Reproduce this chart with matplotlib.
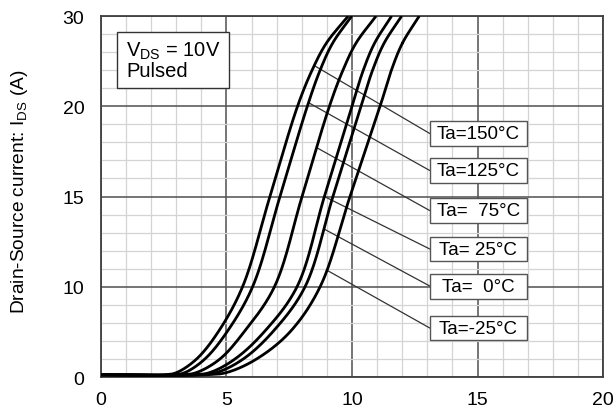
"""Transfer characteristics (IDS vs VGS) at several ambient temperatures."""

import numpy as np
import matplotlib
matplotlib.use("Agg")
import matplotlib.pyplot as plt
from matplotlib.patches import Rectangle
from matplotlib.ticker import FixedLocator, MultipleLocator

plt.rcParams["font.family"] = ["Liberation Sans", "DejaVu Sans"]
plt.rcParams["mathtext.fontset"] = "custom"
plt.rcParams["mathtext.rm"] = "Liberation Sans"
plt.rcParams["mathtext.it"] = "Liberation Sans:italic"
plt.rcParams["mathtext.bf"] = "Liberation Sans:bold"

# y axis labels as printed (evenly spaced on the sheet)
y_ticks = [0, 10, 15, 20, 30]
x_ticks = [0, 5, 10, 15, 20]

# drain current (A) levels shared by all curves
ids_levels = [0.25, 0.25, 0.5, 2.0, 5.0, 10.0, 15.0, 20.0, 24.0, 27.0, 30.0]
# gate voltage (V) at which each curve reaches those levels
vgs_150 = [0, 2.55, 3.02, 3.81, 4.67, 5.64, 6.73, 7.83, 8.41, 8.98, 9.85]
vgs_125 = [0, 2.87, 3.35, 4.14, 5.02, 6.04, 7.13, 8.22, 8.73, 9.23, 9.99]
vgs_75 = [0, 3.23, 3.81, 4.74, 5.70, 6.91, 8.01, 9.10, 9.64, 10.16, 10.96]
vgs_25 = [0, 3.67, 4.34, 5.34, 6.50, 7.81, 8.90, 10.00, 10.45, 10.90, 11.58]
vgs_0 = [0, 3.86, 4.61, 5.67, 6.84, 8.13, 9.24, 10.36, 10.82, 11.28, 11.98]
vgs_m25 = [0, 4.18, 5.01, 6.20, 7.53, 8.73, 9.92, 11.12, 11.57, 12.01, 12.68]

curves = [vgs_150, vgs_125, vgs_75, vgs_25, vgs_0, vgs_m25]
labels = ["Ta=150°C", "Ta=125°C", "Ta=  75°C", "Ta= 25°C", "Ta=  0°C", "Ta=-25°C"]
# current where each callout line touches its curve
callout_ids = [24.5, 20.4, 17.7, 15.0, 13.2, 10.9]


def fwd(v):
    return np.interp(v, y_ticks, np.arange(len(y_ticks)))


def inv(u):
    return np.interp(u, np.arange(len(y_ticks)), y_ticks)


def smooth(px, py, n=60):
    # centripetal Catmull-Rom through the points (in screen-like units)
    P = np.column_stack([px, py])
    P = np.vstack([2 * P[0] - P[1], P, 2 * P[-1] - P[-2]])
    out = []
    for i in range(1, len(P) - 2):
        p0, p1, p2, p3 = P[i - 1], P[i], P[i + 1], P[i + 2]
        t0 = 0.0
        t1 = t0 + np.linalg.norm(p1 - p0) ** 0.5
        t2 = t1 + np.linalg.norm(p2 - p1) ** 0.5
        t3 = t2 + np.linalg.norm(p3 - p2) ** 0.5
        t = np.linspace(t1, t2, n)[:, None]
        a1 = (t1 - t) / (t1 - t0) * p0 + (t - t0) / (t1 - t0) * p1
        a2 = (t2 - t) / (t2 - t1) * p1 + (t - t1) / (t2 - t1) * p2
        a3 = (t3 - t) / (t3 - t2) * p2 + (t - t2) / (t3 - t2) * p3
        b1 = (t2 - t) / (t2 - t0) * a1 + (t - t0) / (t2 - t0) * a2
        b2 = (t3 - t) / (t3 - t1) * a2 + (t - t1) / (t3 - t1) * a3
        out.append((t2 - t) / (t2 - t1) * b1 + (t - t1) / (t2 - t1) * b2)
    c = np.vstack(out)
    return c[:, 0], c[:, 1]


fig = plt.figure(figsize=(6.15, 4.10), dpi=100)
ax = fig.add_axes([0.1642, 0.078, 0.8163, 0.8805])
ax.set_yscale("function", functions=(fwd, inv))
ax.set_xlim(0, 20)
ax.set_ylim(0, 30)

ax.set_xticks(x_ticks)
ax.xaxis.set_minor_locator(MultipleLocator(1))
ax.set_yticks(y_ticks)
ax.yaxis.set_minor_locator(FixedLocator(inv(np.arange(0, 4.01, 0.2))))
ax.set_yticklabels([str(v) for v in y_ticks])
ax.tick_params(which="both", length=0, labelsize=14)
ax.tick_params(axis="x", pad=10)
ax.tick_params(axis="y", pad=12)
ax.grid(which="minor", color="#d4d4d4", lw=0.9)
ax.grid(which="major", color="#505050", lw=1.1)
ax.set_axisbelow(True)
for sp in ax.spines.values():
    sp.set_color("#404040")
    sp.set_linewidth(1.3)

ax.set_ylabel(r"Drain-Source current: I$_{\mathrm{DS}}$ (A)", fontsize=13.8)
ax.yaxis.set_label_coords(-0.141, 0.515)

# screen scale: 20 V over 502 px, 4 label steps over 361 px
sx, su = 25.1, 90.25
dense = []
for vgs in curves:
    cx, cu = smooth(np.array(vgs) * sx, fwd(np.array(ids_levels)) * su)
    xs, ys = cx / sx, inv(np.clip(cu / su, 0, 4))
    dense.append((xs, ys))
    ax.plot(xs, ys, color="black", lw=2.0, zorder=3, solid_capstyle="butt")

ax.add_patch(Rectangle((0.032, 0.8006), 0.223, 0.155, transform=ax.transAxes,
                       fc="white", ec="#333333", lw=1.0, zorder=5))
ax.text(0.05, 0.935, "V$_{\\mathrm{DS}}$ = 10V\nPulsed", transform=ax.transAxes,
        fontsize=14.5, va="top", ha="left", linespacing=1.0, zorder=6)

box_left, box_w, box_h = 0.655, 0.193, 0.069
box_centers = [0.6745, 0.572, 0.461, 0.3546, 0.252, 0.1357]
for (xs, ys), lab, cur, yc in zip(dense, labels, callout_ids, box_centers):
    k = np.argmax(ys >= cur)
    x0 = xs[k]
    ax.annotate("", xy=(x0, cur), xycoords="data", xytext=(box_left, yc),
                textcoords="axes fraction",
                arrowprops=dict(arrowstyle="-", color="#333333", lw=0.9,
                                shrinkA=0, shrinkB=0), zorder=2.5)
    ax.add_patch(Rectangle((box_left, yc - box_h / 2), box_w, box_h,
                           transform=ax.transAxes, fc="white", ec="#555555",
                           lw=1.0, zorder=5))
    ax.text(box_left + box_w / 2, yc, lab, transform=ax.transAxes, ha="center",
            va="center", fontsize=13.5, zorder=6)

fig.savefig("out.png", dpi=100)
